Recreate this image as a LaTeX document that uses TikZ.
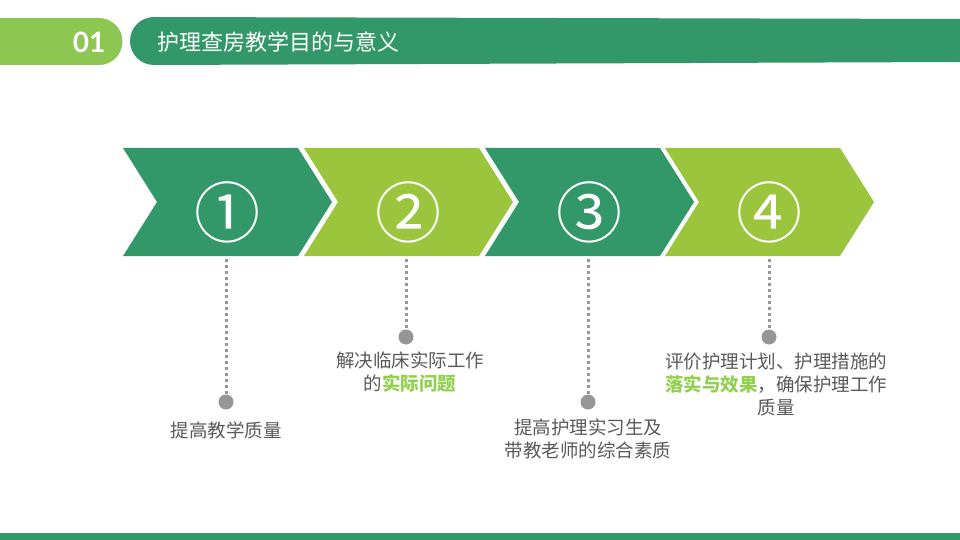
\documentclass[tikz,border=0pt]{standalone}
\usepackage{fontspec}
\setmainfont{Noto Sans CJK SC}
\newfontfamily\latofont{Lato}
\definecolor{dkgreen}{RGB}{51,152,105}
\definecolor{ltgreen}{RGB}{155,197,61}
\definecolor{hdrlight}{RGB}{141,198,80}
\definecolor{hltext}{RGB}{146,208,80}
\definecolor{txtgray}{RGB}{89,89,89}
\definecolor{dotgray}{RGB}{150,150,150}
\tikzset{
  numtext/.style={text=white, font=\fontsize{66}{66}\selectfont, inner sep=0pt},
  dotline/.style={draw=dotgray, line width=3pt, dash pattern=on 3pt off 3pt},
  dotnode/.style={circle, fill=dotgray, minimum size=15pt, inner sep=0pt},
  bodytext/.style={text=txtgray, align=center, font=\fontsize{18.5}{23}\selectfont, inner sep=0pt},
}
\newcommand{\hl}[1]{\textcolor{hltext}{\bfseries #1}}
\begin{document}
\begin{tikzpicture}[x=1pt,y=-1pt]
\useasboundingbox (0,0) rectangle (960,540);
% header
\fill[hdrlight] (0,18) -- (99,18) arc[start angle=-90, end angle=90, radius=23.5] -- (0,65) -- cycle;
\fill[dkgreen] (960,19) -- (154,17) arc[start angle=-90, end angle=-270, radius=24] -- (960,62) -- cycle;
\node[text=white, font=\latofont\bfseries\fontsize{28}{28}\selectfont, inner sep=0pt] (num) at (89,42) {01};
\node[text=white, font=\fontsize{22}{22}\selectfont, anchor=west, inner sep=0pt] (title) at (157,42) {护理查房教学目的与意义};
% bottom bar
\fill[dkgreen] (0,533) rectangle (960,540);
% chevrons
\foreach \x/\c in {123/dkgreen,304/ltgreen,485/dkgreen,665/ltgreen}{
  \fill[\c] (\x,148) -- ++(175,0) -- ++(34,54) -- ++(-34,54) -- ++(-175,0) -- ++(34,-54) -- cycle;
}
\node[numtext] (n1) at (227,212) {①};
\node[numtext] (n2) at (408,212) {②};
\node[numtext] (n3) at (589,212) {③};
\node[numtext] (n4) at (769,212) {④};
% connector start points
\coordinate (c1) at (226,259);
\coordinate (c2) at (406,259);
\coordinate (c3) at (588,259);
\coordinate (c4) at (769,259);
% dots
\node[dotnode] (d1) at (226,402) {};
\node[dotnode] (d2) at (406,337) {};
\node[dotnode] (d3) at (588,402) {};
\node[dotnode] (d4) at (769,337) {};
\draw[dotline] (c1) -- (d1.north);
\draw[dotline] (c2) -- (d2.north);
\draw[dotline] (c3) -- (d3.north);
\draw[dotline] (c4) -- (d4.north);
% texts
\node[bodytext] (t1) at (226,430) {提高教学质量};
\node[bodytext] (t2) at (410,372.5) {解决临床实际工作\\的\hl{实际问题}};
\node[bodytext] (t3) at (588,439) {提高护理实习生及\\带教老师的综合素质};
\node[bodytext] (t4) at (776,384) {评价护理计划、护理措施的\\\hl{落实与效果}，确保护理工作\\质量};
\end{tikzpicture}
\end{document}
